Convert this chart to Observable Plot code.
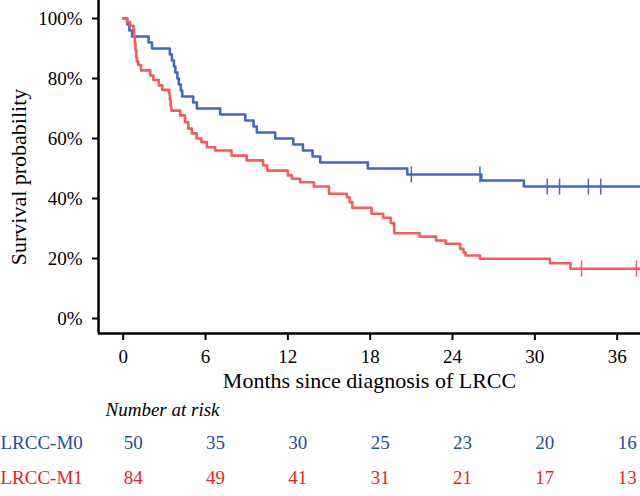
<!DOCTYPE html>
<html>
<head>
<meta charset="utf-8">
<script src="https://cdn.jsdelivr.net/npm/d3@7"></script>
<script src="https://cdn.jsdelivr.net/npm/@observablehq/plot@0.6"></script>
<style>
  html, body { margin: 0; padding: 0; background: #fff; }
  #chart { width: 640px; height: 496px; overflow: hidden; }
  #chart svg, #chart svg text { font-family: "Liberation Serif", "Times New Roman", serif !important; }
</style>
</head>
<body>
<div id="chart"></div>
<script>
// ---- data ----
const groups = ["LRCC-M0", "LRCC-M1"];
const monthTicks = [0, 6, 12, 18, 24, 30, 36];
const yTicks = [0, 0.2, 0.4, 0.6, 0.8, 1.0];
const riskM0 = [50, 35, 30, 25, 23, 20, 16];
const riskM1 = [84, 49, 41, 31, 21, 17, 13];

const m0Time = [0, 0.3, 0.45, 0.65, 1.85, 2.1, 3.4, 3.55, 3.7, 3.8, 3.95, 4.05, 4.2, 4.3, 5.1, 5.37,
  7.07, 8.9, 9.5, 9.74, 11.08, 12.4, 13.1, 13.8, 14.36, 17.83, 20.7, 26.1, 29.2, 37.7];
const m0Surv = [1.0, 0.98, 0.96, 0.94, 0.92, 0.90, 0.88, 0.86, 0.84, 0.82, 0.80, 0.78, 0.76, 0.74, 0.72, 0.70,
  0.68, 0.66, 0.64, 0.62, 0.60, 0.58, 0.56, 0.54, 0.52, 0.50, 0.48, 0.46, 0.44, 0.44];
const m0Censor = [21.0, 26.0, 30.9, 31.8, 33.9, 34.8];

const m1Time = [0, 0.27, 0.5, 0.75, 0.8, 0.85, 0.9, 0.95, 1.0, 1.1, 1.3, 1.97, 2.2, 2.6, 2.85, 3.35, 3.4, 3.45, 3.5,
  4.15, 4.5, 4.75, 5.0, 5.35, 5.7, 6.1, 6.7, 7.9, 9.0, 10.2, 10.5, 12.0, 12.3, 12.9, 13.9, 15.0, 16.3, 16.5, 16.7,
  18.1, 18.95, 19.5, 19.75, 21.6, 22.8, 23.5, 24.56, 24.8, 24.95, 26.0, 31.1, 32.6, 37.7];
const m1Surv = [1.0, 0.988, 0.976, 0.964, 0.94, 0.917, 0.893, 0.87, 0.857, 0.845, 0.827, 0.81, 0.795, 0.777, 0.762, 0.75, 0.73, 0.71, 0.693,
  0.677, 0.654, 0.633, 0.617, 0.60, 0.588, 0.571, 0.56, 0.543, 0.527, 0.51, 0.493, 0.477, 0.466, 0.454, 0.44, 0.416, 0.404, 0.388, 0.369,
  0.349, 0.336, 0.318, 0.284, 0.273, 0.26, 0.249, 0.232, 0.221, 0.21, 0.199, 0.184, 0.166, 0.166];
const m1Censor = [33.4, 37.4];

const xDomain = [-1.8, 37.7];
const yDomain = [-0.05, 1.06];

// ---- styling ----
const blue = "#4468bf";
const red = "#f75b5b";
const blueText = "#1f4f9e";
const redText = "#f01c1c";
const serif = "Liberation Serif";

// ---- derived tables ----
const curve = (times, surv, group) => times.map((t, i) => ({t, s: surv[i], group}));
const survAt = (times, surv, t) => { let v = surv[0]; times.forEach((tt, i) => { if (tt <= t) v = surv[i]; }); return v; };
const censor = (ct, times, surv, group) => ct.map(t => ({t, s: survAt(times, surv, t), group}));
const m0 = curve(m0Time, m0Surv, groups[0]);
const m1 = curve(m1Time, m1Surv, groups[1]);
const c0 = censor(m0Censor, m0Time, m0Surv, groups[0]);
const c1 = censor(m1Censor, m1Time, m1Surv, groups[1]);
const risk0 = monthTicks.map((t, i) => ({t, n: riskM0[i]}));
const risk1 = monthTicks.map((t, i) => ({t, n: riskM1[i]}));

const vline = {
  draw(context, size) {
    const h = Math.sqrt(size / Math.PI);
    context.moveTo(0, -h);
    context.lineTo(0, h);
  }
};

const chart = Plot.plot({
  width: 640,
  height: 496,
  marginLeft: 98,
  marginRight: 0,
  marginTop: 0,
  marginBottom: 163,
  style: {fontFamily: serif, fontSize: "18px", color: "#000", background: "#fff"},
  x: {domain: xDomain},
  y: {domain: yDomain},
  marks: [
    Plot.axisY({ticks: yTicks, tickFormat: d3.format(".0%"), tickSize: 6, tickPadding: 10, strokeWidth: 2, label: null, fontSize: 19, fontFamily: serif}),
    Plot.axisX({ticks: monthTicks, tickSize: 7, tickPadding: 9, strokeWidth: 2, label: null, fontSize: 19, fontFamily: serif}),
    Plot.ruleX([xDomain[0]], {stroke: "#000", strokeWidth: 2.5}),
    Plot.ruleY([yDomain[0]], {stroke: "#000", strokeWidth: 2.5}),
    Plot.line(m0, {x: "t", y: "s", curve: "step-after", stroke: blue, strokeWidth: 2.6}),
    Plot.dot(c0, {x: "t", y: "s", symbol: vline, r: 8, stroke: blue, strokeWidth: 1.5}),
    Plot.line(m1, {x: "t", y: "s", curve: "step-after", stroke: red, strokeWidth: 2.6}),
    Plot.dot(c1, {x: "t", y: "s", symbol: vline, r: 8, stroke: red, strokeWidth: 1.5}),
    Plot.text(["Survival probability"], {frameAnchor: "left", textAnchor: "middle", rotate: -90, dx: -80, dy: 10, fontSize: 22, fontFamily: serif}),
    Plot.text(["Months since diagnosis of LRCC"], {frameAnchor: "bottom", dy: 54, fontSize: 22, fontFamily: serif}),
    Plot.text(["Number at risk"], {frameAnchor: "bottom-left", dx: 7, dy: 82, textAnchor: "start", fontStyle: "italic", fontSize: 19, fontFamily: serif}),
    Plot.text([groups[0]], {frameAnchor: "bottom-left", dx: -98, dy: 115, textAnchor: "start", fill: blueText, fontSize: 19, fontFamily: serif}),
    Plot.text([groups[1]], {frameAnchor: "bottom-left", dx: -98, dy: 150, textAnchor: "start", fill: redText, fontSize: 19, fontFamily: serif}),
    Plot.text(risk0, {x: "t", text: "n", frameAnchor: "bottom", dy: 115, dx: 10, fill: blueText, fontSize: 19, fontFamily: serif}),
    Plot.text(risk1, {x: "t", text: "n", frameAnchor: "bottom", dy: 150, dx: 10, fill: redText, fontSize: 19, fontFamily: serif})
  ]
});
document.getElementById("chart").append(chart);
</script>
</body>
</html>
